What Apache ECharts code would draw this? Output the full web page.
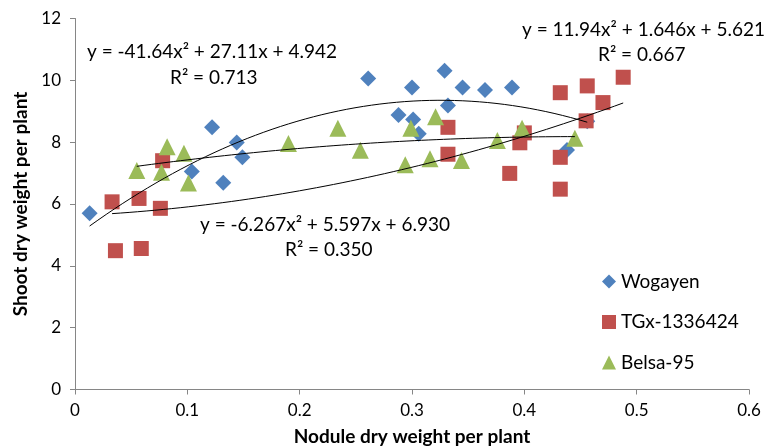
<!DOCTYPE html>
<html>
<head>
<meta charset="utf-8">
<script src="https://cdn.jsdelivr.net/npm/echarts@6/dist/echarts.min.js"></script>
<style>
  html, body { margin: 0; padding: 0; background: #fff; }
  #chart { width: 771px; height: 446px; }
</style>
</head>
<body>
<div id="chart"></div>
<script>
// 数据：结瘤干重 vs 地上部干重
const wogayenX = [0.013, 0.104, 0.122, 0.132, 0.144, 0.149, 0.261, 0.288, 0.300, 0.301, 0.306, 0.332, 0.329, 0.345, 0.365, 0.389, 0.438, 0.456]
const wogayenY = [5.70, 7.05, 8.48, 6.69, 7.99, 7.51, 10.06, 8.88, 9.77, 8.73, 8.27, 9.19, 10.31, 9.77, 9.69, 9.77, 7.75, 8.68]

const tgxX = [0.033, 0.036, 0.057, 0.059, 0.076, 0.078, 0.332, 0.332, 0.387, 0.396, 0.400, 0.432, 0.432, 0.432, 0.455, 0.456, 0.470, 0.488]
const tgxY = [6.07, 4.49, 6.18, 4.56, 5.86, 7.40, 8.48, 7.61, 6.99, 7.98, 8.30, 9.60, 7.51, 6.48, 8.69, 9.82, 9.28, 10.10]

const belsaX = [0.055, 0.077, 0.082, 0.097, 0.101, 0.190, 0.234, 0.254, 0.294, 0.299, 0.316, 0.321, 0.344, 0.376, 0.398, 0.445]
const belsaY = [7.08, 7.03, 7.85, 7.64, 6.68, 7.96, 8.45, 7.74, 7.27, 8.45, 7.46, 8.82, 7.41, 8.05, 8.45, 8.13]

// 趋势线系数 [a, b, c] -> y = a*x^2 + b*x + c
const wogayenFit = [-41.64, 27.11, 4.942]
const tgxFit = [11.94, 1.646, 5.621]
const belsaFit = [-6.267, 5.597, 6.930]

const xTicks = [0, 0.1, 0.2, 0.3, 0.4, 0.5, 0.6]
const yTicks = [0, 2, 4, 6, 8, 10, 12]

const font = 'Lato, "Open Sans", sans-serif'

const zip = (xs, ys) => xs.map((x, i) => [x, ys[i]])

const fitLine = (coef, xs) => {
  const lo = Math.min(...xs)
  const hi = Math.max(...xs)
  const pts = []
  for (let i = 0; i <= 60; i++) {
    const x = lo + (hi - lo) * i / 60
    pts.push([x, coef[0] * x * x + coef[1] * x + coef[2]])
  }
  return pts
}

const scatter = (name, xs, ys, symbol, color, size) => ({
  name: name,
  type: 'scatter',
  symbol: symbol,
  symbolSize: size,
  itemStyle: {color: color, opacity: 1},
  data: zip(xs, ys),
  z: 2
})

const trend = (coef, xs) => ({
  type: 'line',
  showSymbol: false,
  silent: true,
  lineStyle: {color: '#000', width: 1},
  data: fitLine(coef, xs),
  z: 3
})

// 公式文字，x 为左边，y 为中线
const eqText = (x, y, text) => ({
  type: 'text',
  x: x,
  y: y,
  style: {text: text, font: '19px ' + font, fill: '#000', verticalAlign: 'middle'}
})

const chart = echarts.init(document.getElementById('chart'))

chart.setOption({
  animation: false,
  grid: {left: 75, right: 22, top: 18.5, bottom: 56.5, outerBoundsMode: 'none'},
  legend: {
    orient: 'vertical',
    left: 597,
    top: 267,
    itemWidth: 14,
    itemHeight: 14,
    itemGap: 21.5,
    textStyle: {fontFamily: font, fontSize: 19, color: '#000'},
    data: [
      {name: 'Wogayen', icon: 'diamond'},
      {name: 'TGx-1336424', icon: 'rect'},
      {name: 'Belsa-95', icon: 'triangle'}
    ]
  },
  xAxis: {
    type: 'value',
    min: xTicks[0],
    max: xTicks[xTicks.length - 1],
    interval: 0.1,
    name: 'Nodule dry weight per plant',
    nameLocation: 'middle',
    nameGap: 38,
    nameTextStyle: {fontFamily: font, fontSize: 19, fontWeight: 'bold', color: '#000'},
    splitLine: {show: false},
    axisLine: {lineStyle: {color: '#868686'}},
    axisTick: {show: true, length: 5, lineStyle: {color: '#868686'}},
    axisLabel: {fontFamily: font, fontSize: 17, color: '#000', margin: 13}
  },
  yAxis: {
    type: 'value',
    min: yTicks[0],
    max: yTicks[yTicks.length - 1],
    interval: 2,
    name: 'Shoot dry weight per plant',
    nameLocation: 'middle',
    nameGap: 38,
    nameTextStyle: {fontFamily: font, fontSize: 19, fontWeight: 'bold', color: '#000'},
    splitLine: {show: false},
    axisLine: {show: true, lineStyle: {color: '#868686'}},
    axisTick: {show: true, length: 5, lineStyle: {color: '#868686'}},
    axisLabel: {fontFamily: font, fontSize: 17, color: '#000', margin: 14}
  },
  graphic: [
    eqText(87, 52, 'y = -41.64x² + 27.11x + 4.942'),
    eqText(170, 78, 'R² = 0.713'),
    eqText(522, 30, 'y = 11.94x² + 1.646x + 5.621'),
    eqText(598, 55, 'R² = 0.667'),
    eqText(200, 225, 'y = -6.267x² + 5.597x + 6.930'),
    eqText(285, 250, 'R² = 0.350')
  ],
  series: [
    scatter('Wogayen', wogayenX, wogayenY, 'diamond', '#4F81BD', 16),
    scatter('TGx-1336424', tgxX, tgxY, 'rect', '#C0504D', 15),
    scatter('Belsa-95', belsaX, belsaY, 'triangle', '#9BBB59', 17),
    trend(wogayenFit, wogayenX),
    trend(tgxFit, tgxX),
    trend(belsaFit, belsaX)
  ]
})
</script>
</body>
</html>
